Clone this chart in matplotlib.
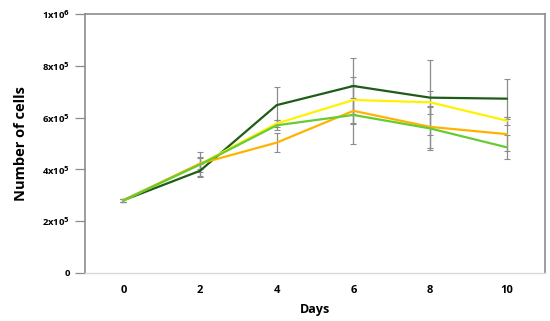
import numpy as np
import matplotlib
matplotlib.use("Agg")
import matplotlib.pyplot as plt

plt.rcParams['font.family'] = ['Open Sans', 'DejaVu Sans']

# days and cell counts
days = [0, 2, 4, 6, 8, 10]

dark_green = [2.80e5, 3.94e5, 6.48e5, 7.22e5, 6.77e5, 6.73e5]
yellow     = [2.80e5, 4.20e5, 5.77e5, 6.68e5, 6.59e5, 5.88e5]
green      = [2.80e5, 4.18e5, 5.70e5, 6.10e5, 5.58e5, 4.85e5]
orange     = [2.80e5, 4.22e5, 5.03e5, 6.26e5, 5.64e5, 5.36e5]

dark_green_err = [0.05e5, 0.25e5, 0.72e5, 1.10e5, 1.46e5, 0.78e5]
yellow_err     = [0.05e5, 0.45e5, 0.15e5, 0.90e5, 0.45e5, 0.15e5]
green_err      = [0.05e5, 0.30e5, 0.20e5, 1.14e5, 0.84e5, 0.46e5]
orange_err     = [0.05e5, 0.20e5, 0.38e5, 0.50e5, 0.80e5, 0.66e5]

ytick_vals = [0, 2e5, 4e5, 6e5, 8e5, 1e6]
ytick_labels = ['0', r'2x10$^{\mathbf{5}}$', r'4x10$^{\mathbf{5}}$',
                r'6x10$^{\mathbf{5}}$', r'8x10$^{\mathbf{5}}$', r'1x10$^{\mathbf{6}}$']

series = [
    (dark_green, dark_green_err, '#1E5C17'),
    (yellow, yellow_err, '#FFF200'),
    (orange, orange_err, '#FFB300'),
    (green, green_err, '#66CC33'),
]

fig = plt.figure(figsize=(5.5, 3.21), dpi=100)
ax = fig.add_axes([0.1545, 0.1505, 0.8365, 0.8055])

for vals, err, col in series:
    ax.errorbar(days, vals, yerr=err, fmt='none', ecolor='#8c8c8c',
                elinewidth=0.9, capsize=2, capthick=0.8, zorder=1)
for vals, err, col in series:
    ax.plot(days, vals, color=col, lw=1.6, zorder=2)

ax.set_xlim(-1, 11)
ax.set_ylim(0, 1e6)
ax.set_xticks(days)
ax.set_xticklabels([str(d) for d in days], fontsize=8, fontweight='bold')
ax.set_yticks(ytick_vals)
ax.set_yticklabels(ytick_labels, fontsize=6.8, fontweight='bold')
ax.tick_params(axis='x', length=0, pad=9)
ax.tick_params(axis='y', length=7, width=0.9, color='#8c8c8c', pad=4)

for s in ['left', 'right', 'top']:
    ax.spines[s].set_color('#8c8c8c')
    ax.spines[s].set_linewidth(1.2)
ax.spines['bottom'].set_color('#d9d9d9')
ax.spines['bottom'].set_linewidth(1.0)

ax.set_xlabel('Days', fontsize=9, fontweight='bold', labelpad=5)
ax.set_ylabel('Number of cells', fontsize=10.5, fontweight='bold', labelpad=10)

fig.savefig('out.png', dpi=100)
